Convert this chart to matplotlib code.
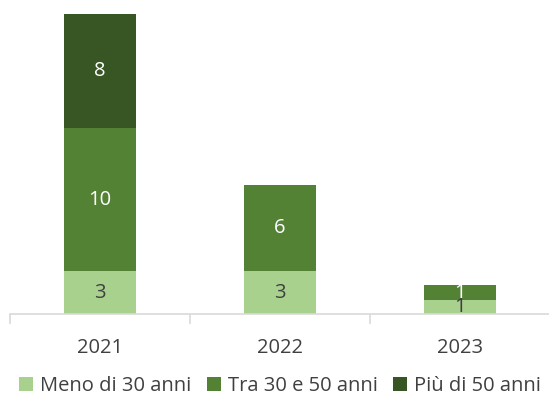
import matplotlib.pyplot as plt
import numpy as np

plt.rcParams['font.family'] = ['Open Sans', 'DejaVu Sans']

years = ['2021', '2022', '2023']
meno_30 = [3, 3, 1]
tra_30_50 = [10, 6, 1]
piu_50 = [8, 0, 0]

series = [
    ('Meno di 30 anni', meno_30, '#A9D18E', '#404040'),
    ('Tra 30 e 50 anni', tra_30_50, '#548235', 'white'),
    ('Più di 50 anni', piu_50, '#375623', 'white'),
]

fig = plt.figure(figsize=(5.49, 4.05), dpi=100)
ax = fig.add_axes([10 / 549, 1 - 314 / 405, 540 / 549, 300 / 405])

x = np.arange(len(years))
bottom = np.zeros(len(years))
for name, vals, color, txt in series:
    vals = np.array(vals, dtype=float)
    ax.bar(x, vals, width=0.405, bottom=bottom, color=color, label=name)
    for xi, b, v in zip(x, bottom, vals):
        if v > 0:
            ax.text(xi, b + v / 2, f'{int(v)}', ha='center', va='center',
                    color=txt, fontsize=14.5)
    bottom += vals

ax.set_xlim(-0.5, 2.5)
ax.set_ylim(0, 21)
ax.set_yticks([])
for s in ['top', 'right', 'left']:
    ax.spines[s].set_visible(False)
ax.spines['bottom'].set_color('#D9D9D9')
ax.spines['bottom'].set_linewidth(1.2)
ax.set_xticks([-0.5, 0.5, 1.5, 2.5], minor=False)
ax.set_xticklabels([])
ax.tick_params(axis='x', which='major', length=7, color='#D9D9D9', width=1.2)
ax.set_xticks(x, minor=True)
ax.set_xticklabels(years, minor=True)
ax.tick_params(axis='x', which='minor', length=0, pad=17, labelsize=14.5,
               labelcolor='#404040')

handles, labels = ax.get_legend_handles_labels()
fig.legend(handles, labels, loc='center', bbox_to_anchor=(0.51, 1 - 386 / 405),
           ncol=3, frameon=False, fontsize=14.5, handlelength=0.7,
           handleheight=0.7, handletextpad=0.35, columnspacing=0.75,
           labelcolor='#404040')

fig.savefig('out.png', dpi=100)
